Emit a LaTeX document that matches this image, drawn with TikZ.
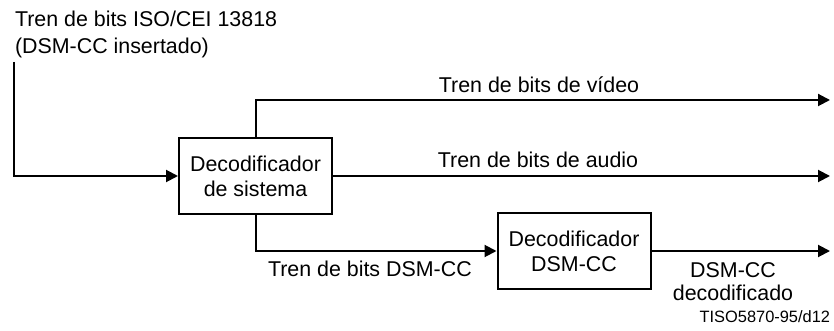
\documentclass[tikz,border=0pt]{standalone}
\usepackage{fontspec}
\setmainfont{Liberation Sans}
\usetikzlibrary{arrows.meta}
\begin{document}
\begin{tikzpicture}[x=0.5pt,y=-0.5pt,
  line width=1pt,
  blk/.style={draw,line width=1pt,minimum width=76.5pt,minimum height=38pt,align=center,inner sep=0pt,font=\fontsize{10.7pt}{12.5pt}\selectfont},
  lbl/.style={inner sep=0pt,font=\fontsize{10.7pt}{11.5pt}\selectfont},
  arr/.style={-{Triangle[length=6pt,width=6pt]}}]
\useasboundingbox (0,0) rectangle (834,331);
\node[lbl,anchor=base west] (t1) at (14,27) {Tren de bits ISO/CEI 13818};
\node[lbl,anchor=base west] (t2) at (14,54) {(DSM-CC insertado)};
\node[blk] (sys) at (255.5,176) {Decodificador\\de sistema};
\node[blk] (dsm) at (574,251) {Decodificador\\DSM-CC};
\coordinate (start) at (14,62);
\coordinate (vidend) at (830,100);
\coordinate (audend) at (830,176);
\coordinate (outend) at (830,251);
\draw[arr] (start) |- (sys.west);
\draw[arr] (sys.north) |- (vidend);
\draw[arr] (sys.east) -- (audend);
\draw[arr] (sys.south) |- (dsm.west);
\draw[arr] (dsm.east) -- (outend);
\node[lbl,anchor=base] (lv) at (539,93) {Tren de bits de vídeo};
\node[lbl,anchor=base] (la) at (538,168) {Tren de bits de audio};
\node[lbl,anchor=base west] (ld) at (267,276) {Tren de bits DSM-CC};
\node[lbl,anchor=base] (lo1) at (733,277) {DSM-CC};
\node[lbl,anchor=base] (lo2) at (733,300) {decodificado};
\node[inner sep=0pt,anchor=base east,font=\fontsize{8.2pt}{10pt}\selectfont] (fig) at (831,322) {TISO5870-95/d12};
\end{tikzpicture}
\end{document}
